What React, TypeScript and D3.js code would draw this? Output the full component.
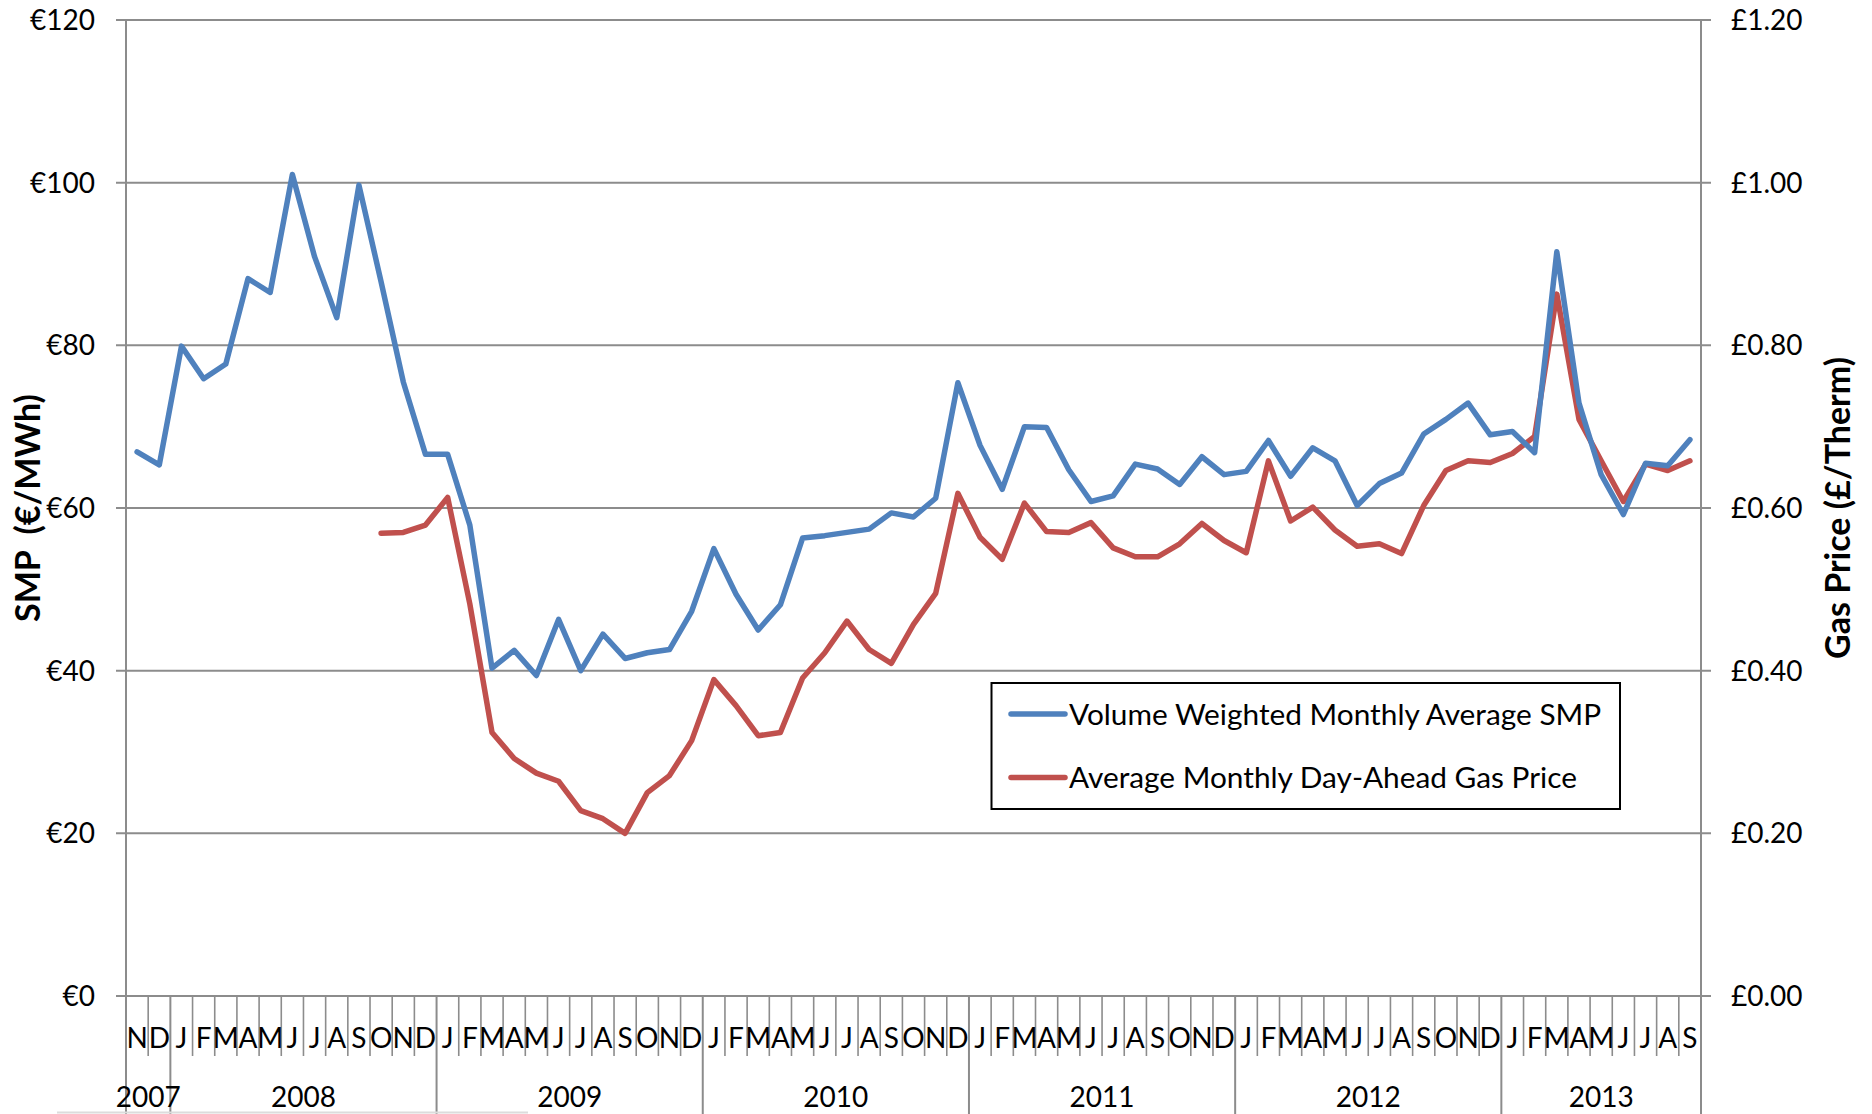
import React from "react";
import * as d3 from "d3";

const months: string[] = [
  "N","D",
  "J","F","M","A","M","J","J","A","S","O","N","D",
  "J","F","M","A","M","J","J","A","S","O","N","D",
  "J","F","M","A","M","J","J","A","S","O","N","D",
  "J","F","M","A","M","J","J","A","S","O","N","D",
  "J","F","M","A","M","J","J","A","S","O","N","D",
  "J","F","M","A","M","J","J","A","S",
];
const years: string[] = ["2007", "2008", "2009", "2010", "2011", "2012", "2013"];
const monthsPerYear: number[] = [2, 12, 12, 12, 12, 12, 9];

// Volume Weighted Monthly Average SMP (€/MWh)
const smp: number[] = [
  66.9, 65.3,
  79.9, 75.9, 77.7, 88.2, 86.5, 101.0, 90.9, 83.4, 99.7, 87.8, 75.5, 66.6,
  66.6, 57.9, 40.3, 42.5, 39.4, 46.3, 40.0, 44.5, 41.5, 42.2, 42.6, 47.3,
  55.0, 49.4, 45.0, 48.1, 56.3, 56.6, 57.0, 57.4, 59.4, 58.9, 61.2, 75.4,
  67.7, 62.3, 70.0, 69.9, 64.7, 60.8, 61.5, 65.4, 64.8, 62.9, 66.3, 64.1,
  64.5, 68.3, 63.9, 67.4, 65.8, 60.3, 63.0, 64.3, 69.1, 70.9, 72.9, 69.0,
  69.4, 66.8, 91.5, 72.9, 64.1, 59.2, 65.5, 65.2, 68.4,
];

// Average Monthly Day-Ahead Gas Price (£/Therm)
const gas: (number | null)[] = [
  null, null,
  null, null, null, null, null, null, null, null, null, 0.569, 0.570, 0.579,
  0.613, 0.482, 0.324, 0.292, 0.274, 0.264, 0.228, 0.218, 0.200, 0.250, 0.271, 0.314,
  0.389, 0.357, 0.320, 0.324, 0.391, 0.422, 0.461, 0.426, 0.409, 0.457, 0.495, 0.618,
  0.564, 0.537, 0.606, 0.571, 0.570, 0.582, 0.551, 0.540, 0.540, 0.556, 0.581, 0.560,
  0.545, 0.658, 0.584, 0.601, 0.573, 0.553, 0.556, 0.544, 0.603, 0.646, 0.658, 0.656,
  0.667, 0.688, 0.863, 0.709, 0.658, 0.608, 0.654, 0.646, 0.658,
];

const leftTicks: number[] = [0, 20, 40, 60, 80, 100, 120];
const rightTicks: number[] = [0, 0.2, 0.4, 0.6, 0.8, 1.0, 1.2];
const seriesNames: string[] = [
  "Volume Weighted Monthly Average SMP",
  "Average Monthly Day-Ahead Gas Price",
];

const W = 1872;
const H = 1114;
const L = 126;
const R = 1701;
const T = 20;
const B = 996;
const BLUE = "#4F81BD";
const RED = "#C0504D";
const GRID = "#8C8C8C";
const FONT = "Lato, 'Open Sans', sans-serif";

export default function App() {
  const idx = months.map((_, i) => i);
  const x = d3.scaleBand<number>().domain(idx).range([L, R]).padding(0);
  const bw = x.bandwidth();
  const cx = (i: number) => (x(i) as number) + bw / 2;
  const yL = d3.scaleLinear().domain([0, 120]).range([B, T]);
  const yR = d3.scaleLinear().domain([0, 1.2]).range([B, T]);

  const smpLine = d3
    .line<number>()
    .x((_, i) => cx(i))
    .y((d) => yL(d));
  const gasLine = d3
    .line<number | null>()
    .defined((d) => d !== null)
    .x((_, i) => cx(i))
    .y((d) => yR(d as number));

  const yearStarts: number[] = [];
  let acc = 0;
  monthsPerYear.forEach((n) => {
    yearStarts.push(acc);
    acc += n;
  });

  const fs = 28;
  const lfs = 29.8;
  const lw = 5.5;

  return (
    <svg
      width={W}
      height={H}
      style={{ position: "absolute", left: 0, top: 0, background: "#fff" }}
      fontFamily={FONT}
    >
      <rect x={0} y={0} width={W} height={H} fill="#fff" />
      {leftTicks.map((t) => (
        <line key={"g" + t} x1={L - 10} x2={R + 10} y1={yL(t)} y2={yL(t)} stroke={GRID} strokeWidth={2} />
      ))}
      <line x1={L} x2={L} y1={T} y2={H} stroke={GRID} strokeWidth={2} />
      <line x1={R} x2={R} y1={T} y2={H} stroke={GRID} strokeWidth={2} />
      {idx.slice(1).map((i) => {
        const isYear = yearStarts.includes(i);
        return (
          <line
            key={"mt" + i}
            x1={x(i) as number}
            x2={x(i) as number}
            y1={B}
            y2={isYear ? H : 1056}
            stroke={GRID}
            strokeWidth={isYear ? 2 : 1.6}
          />
        );
      })}
      <line x1={57} x2={528} y1={1112.5} y2={1112.5} stroke="#dcdcdc" strokeWidth={2} />
      {leftTicks.map((t) => (
        <text key={"lt" + t} x={95} y={yL(t) + fs * 0.36} textAnchor="end" fontSize={fs} fill="#000">
          {"€" + d3.format("d")(t)}
        </text>
      ))}
      {rightTicks.map((t) => (
        <text key={"rt" + t} x={1731} y={yR(t) + fs * 0.36} textAnchor="start" fontSize={fs} fill="#000">
          {"£" + d3.format(".2f")(t)}
        </text>
      ))}
      {months.map((m, i) => (
        <text key={"m" + i} x={cx(i)} y={1048} textAnchor="middle" fontSize={fs} fill="#000">
          {m}
        </text>
      ))}
      {years.map((yr, k) => {
        const s = yearStarts[k];
        const e = s + monthsPerYear[k];
        const mid = ((x(s) as number) + (x(e - 1) as number) + bw) / 2;
        return (
          <text key={"y" + yr} x={mid} y={1107} textAnchor="middle" fontSize={fs} fill="#000">
            {yr}
          </text>
        );
      })}
      <text
        transform={`translate(40,${(T + B) / 2}) rotate(-90)`}
        textAnchor="middle"
        fontSize={34}
        fontWeight="bold"
        fill="#000"
        style={{ whiteSpace: "pre" }}
      >
        {"SMP  (€/MWh)"}
      </text>
      <text
        transform={`translate(1850,${(T + B) / 2}) rotate(-90)`}
        textAnchor="middle"
        fontSize={34}
        fontWeight="bold"
        fill="#000"
      >
        Gas Price (£/Therm)
      </text>
      <path d={gasLine(gas) || ""} fill="none" stroke={RED} strokeWidth={lw} strokeLinejoin="round" strokeLinecap="round" />
      <path d={smpLine(smp) || ""} fill="none" stroke={BLUE} strokeWidth={lw} strokeLinejoin="round" strokeLinecap="round" />
      <rect x={991.5} y={683} width={628.5} height={126} fill="#fff" stroke="#000" strokeWidth={2} />
      {seriesNames.map((name, k) => {
        const ly = k === 0 ? 714 : 777.5;
        return (
          <g key={name}>
            <line x1={1011} x2={1065} y1={ly} y2={ly} stroke={k === 0 ? BLUE : RED} strokeWidth={lw} strokeLinecap="round" />
            <text x={1069} y={ly + lfs * 0.36} fontSize={lfs} fill="#000">
              {name}
            </text>
          </g>
        );
      })}
    </svg>
  );
}
